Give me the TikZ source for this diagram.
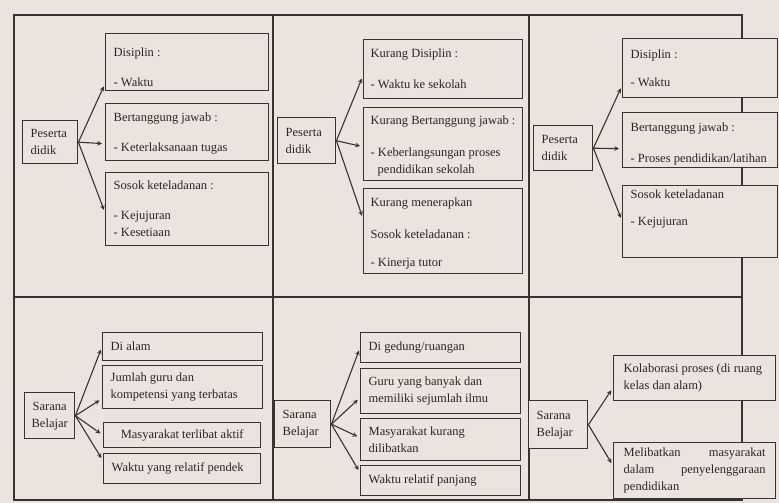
\documentclass[tikz,border=0pt]{standalone}
\usepackage{fontspec}
\setmainfont{Liberation Serif}
\usetikzlibrary{arrows}
\definecolor{paper}{HTML}{EAE3DE}
\definecolor{ink}{HTML}{383333}
\definecolor{print}{HTML}{2A2626}
\newcommand{\txt}{\fontsize{12.5}{17}\selectfont}
\newcommand{\boxtext}[4][t]{\parbox[c][#3][#1]{#2}{\raggedright#4}}
\tikzset{
  frame/.style={line width=1.2pt, ink},
  cell/.style={draw=ink, line width=1.4pt, fill=paper, text=print, anchor=north west, inner xsep=8pt, inner ysep=0pt, font=\txt},
  src/.style={cell, align=left, text width=#1, minimum height=46pt, inner ysep=2pt},
  link/.style={-stealth, line width=1.1pt, ink, shorten >=3pt},
}

\begin{document}
\begin{tikzpicture}[x=1pt, y=-1pt]
  \fill[paper] (0,0) rectangle (779,503);
  \useasboundingbox (0,0) rectangle (779,503);
  \draw[frame] (14,15) rectangle (742,500);
  \draw[frame] (273,15) -- (273,500);
  \draw[frame] (529,15) -- (529,500);
  \draw[frame] (14,297) -- (742,297);

  \node[src=39pt, minimum height=43pt] (pa) at (22,120) {Peserta\\didik};
  \node[cell] (a1) at (105,33) {\boxtext{147pt}{57pt}{\vspace*{14pt}Disiplin :\\[13pt]- Waktu}};
  \node[cell] (a2) at (105,103) {\boxtext{147pt}{57pt}{\vspace*{9pt}Bertanggung jawab :\\[13pt]- Keterlaksanaan tugas}};
  \node[cell] (a3) at (105,172) {\boxtext{147pt}{73pt}{\vspace*{8pt}Sosok keteladanan :\\[13pt]- Kejujuran\\- Kesetiaan}};

  \node[src=42pt] (pb) at (277,117) {Peserta\\didik};
  \node[cell, inner xsep=7pt] (b1) at (363,39) {\boxtext{145pt}{59pt}{\vspace*{9pt}Kurang Disiplin :\\[14pt]- Waktu ke sekolah}};
  \node[cell, inner xsep=7pt] (b2) at (363,107) {\boxtext{145pt}{73pt}{\vspace*{8pt}Kurang Bertanggung~jawab~:\\[15pt]- Keberlangsungan proses\\\hspace*{7pt}pendidikan sekolah}};
  \node[cell, inner xsep=7pt] (b3) at (363,188) {\boxtext{145pt}{85pt}{\vspace*{9pt}Kurang menerapkan\\[15pt]Sosok keteladanan :\\[11pt]- Kinerja tutor}};

  \node[src=43pt, minimum height=45pt] (pc) at (533,125) {Peserta\\didik};
  \node[cell] (c1) at (622,38) {\boxtext{139pt}{59pt}{\vspace*{11pt}Disiplin :\\[11pt]- Waktu}};
  \node[cell] (c2) at (622,112) {\boxtext{139pt}{55pt}{\vspace*{10pt}Bertanggung jawab :\\[14pt]- Proses pendidikan/latihan}};
  \node[cell] (c3) at (622,185) {\boxtext{139pt}{72pt}{\vspace*{4pt}Sosok keteladanan\\[10pt]- Kejujuran}};

  \node[src=40pt, align=center, inner xsep=5pt] (sd) at (24,392) {Sarana\\Belajar};
  \node[cell] (d1) at (102,332) {\boxtext[c]{144pt}{28pt}{Di alam}};
  \node[cell] (d2) at (102,365) {\boxtext[c]{144pt}{43pt}{Jumlah guru dan\\kompetensi yang terbatas}};
  \node[cell] (d3) at (103,422) {\boxtext[c]{141pt}{25pt}{\centering Masyarakat terlibat aktif}};
  \node[cell] (d4) at (103,453) {\boxtext[c]{141pt}{30pt}{Waktu yang relatif pendek}};

  \node[src=40pt, minimum height=47pt] (se) at (274,400) {Sarana\\Belajar};
  \node[cell] (e1) at (360,332) {\boxtext[c]{144pt}{30pt}{Di gedung/ruangan}};
  \node[cell] (e2) at (360,368) {\boxtext[c]{144pt}{45pt}{Guru yang banyak dan\\memiliki sejumlah ilmu}};
  \node[cell] (e3) at (360,418) {\boxtext[c]{144pt}{42pt}{Masyarakat kurang\\dilibatkan}};
  \node[cell] (e4) at (360,465) {\boxtext[c]{144pt}{30pt}{Waktu relatif panjang}};

  \node[src=43pt, minimum height=48pt] (sf) at (528,400) {Sarana\\Belajar};
  \node[cell, inner xsep=10pt] (f1) at (613,355) {\boxtext[c]{142pt}{45pt}{Kolaborasi proses (di ruang\\kelas dan alam)}};
  \node[cell, inner xsep=10pt] (f2) at (613,442) {\boxtext[c]{142pt}{56pt}{Melibatkan\hfill masyarakat\\dalam\hfill penyelenggaraan\\pendidikan}};

  \foreach \s/\t/\d in {pa/a1/-21.5, pa/a2/-11.5, pa/a3/-3.5,
                        pb/b1/-6.5, pb/b2/-2.5, pb/b3/12.5,
                        pc/c1/-17.5, pc/c2/-8.5, pc/c3/1,
                        sd/d1/0, sd/d2/-11.5, sd/d3/0, sd/d4/8,
                        se/e1/0, se/e2/-6.5, se/e3/2, se/e4/8,
                        sf/f1/-9.5, sf/f2/5}
    \draw[link] (\s.east) -- ([yshift=\d pt]\t.west);
\end{tikzpicture}
\end{document}
